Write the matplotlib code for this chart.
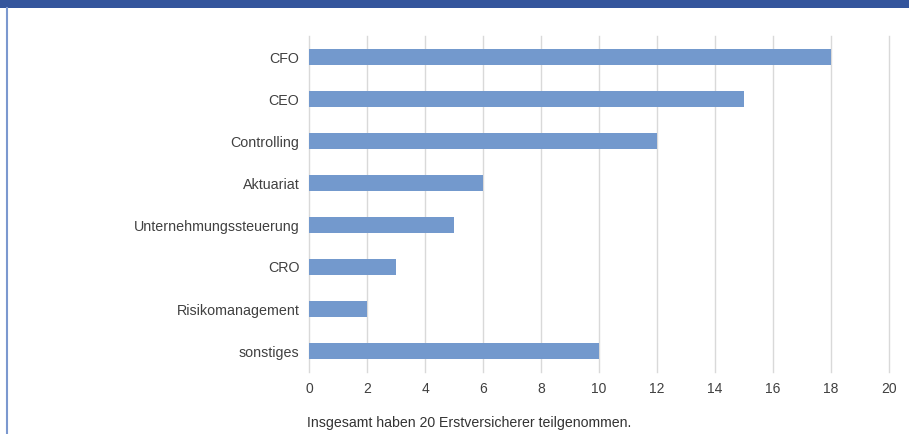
import matplotlib
matplotlib.use("Agg")
import matplotlib.pyplot as plt
from matplotlib.patches import Rectangle
from matplotlib.lines import Line2D

categories = ["CFO", "CEO", "Controlling", "Aktuariat", "Unternehmungssteuerung",
              "CRO", "Risikomanagement", "sonstiges"]
values = [18, 15, 12, 6, 5, 3, 2, 10]
xticks = [0, 2, 4, 6, 8, 10, 12, 14, 16, 18, 20]
note = "Insgesamt haben 20 Erstversicherer teilgenommen."

plt.rcParams['font.family'] = ['Liberation Sans', 'DejaVu Sans']

W, H = 909, 434
fig = plt.figure(figsize=(W / 100, H / 100), dpi=100)

# frame: blue band on top, thin line on the left
fig.patches.append(Rectangle((0, 1 - 8 / H), 1, 8 / H, transform=fig.transFigure,
                             facecolor="#34559c", edgecolor="none"))
fig.lines.append(Line2D([6.5 / W, 6.5 / W], [0, 1 - 8 / H], transform=fig.transFigure,
                        color="#7b98cf", linewidth=1.5))

ax = fig.add_axes([309 / W, (H - 372) / H, (889 - 309) / W, (372 - 36) / H])
ypos = list(range(len(categories)))
ax.barh(ypos, values, height=0.36, color="#7399cd", zorder=3)
ax.set_ylim(len(categories) - 0.5, -0.5)
ax.set_xlim(0, 20)
ax.set_xticks(xticks)
ax.set_yticks(ypos)
ax.set_yticklabels(categories, fontsize=10.3, color="#404040")
ax.tick_params(axis="y", length=0, pad=7)
ax.tick_params(axis="x", length=0, pad=7, labelsize=10, labelcolor="#404040")
ax.grid(axis="x", color="#d9d9d9", linewidth=1, zorder=0)
for gl in ax.get_xgridlines():
    gl.set_clip_on(False)
for s in ax.spines.values():
    s.set_visible(False)

fig.text(307 / W, 1 - 423 / H, note, fontsize=10.2, color="#333333", va="center", ha="left")

fig.savefig("out.png", dpi=100)
